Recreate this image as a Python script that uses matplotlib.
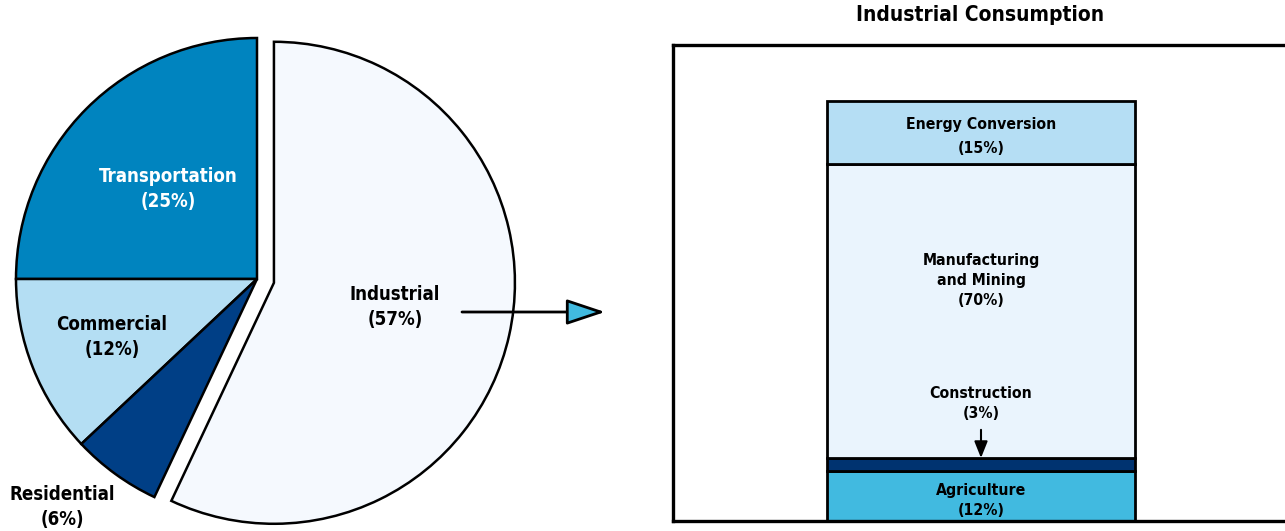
import matplotlib
matplotlib.use("Agg")
import matplotlib.pyplot as plt

# pie: total consumption by sector
sectors = ["Transportation", "Commercial", "Residential", "Industrial"]
shares = [25, 12, 6, 57]
pie_colors = ["#0084BF", "#B4DEF3", "#003F86", "#F5F9FE"]

# stacked bar: industrial consumption, bottom to top
parts = ["Agriculture", "Construction", "Manufacturing\nand Mining", "Energy Conversion"]
part_shares = [12, 3, 70, 15]
bar_colors = ["#41BAE0", "#003370", "#EAF4FD", "#B5DEF4"]

plt.rcParams["font.family"] = ["DejaVu Sans"]
plt.rcParams["font.stretch"] = "condensed"
plt.rcParams["font.weight"] = "bold"

W, H = 1285, 531
fig = plt.figure(figsize=(W / 100, H / 100), dpi=100)

# ---- pie ----
ax = fig.add_axes([0, 0, 620 / W, 1])
cx, cy, r = 257, 279, 241
ax.axis("off")
wedges, _ = ax.pie(shares, colors=pie_colors, startangle=90, counterclock=True,
                   explode=[0, 0, 0, 0.072], radius=1,
                   wedgeprops=dict(edgecolor="black", linewidth=1.8))
ax.set_xlim((0 - cx) / r, (620 - cx) / r)
ax.set_ylim((cy - H) / r, cy / r)
ax.set_aspect("auto")

def px(x, y):
    return (x - cx) / r, (cy - y) / r

fs = 13.4
ax.text(*px(168, 189), f"{sectors[0]}\n({shares[0]}%)", color="white",
        ha="center", va="center", fontsize=fs, linespacing=1.45)
ax.text(*px(112, 337), f"{sectors[1]}\n({shares[1]}%)", color="black",
        ha="center", va="center", fontsize=fs, linespacing=1.45)
ax.text(*px(62, 507), f"{sectors[2]}\n({shares[2]}%)", color="black",
        ha="center", va="center", fontsize=fs, linespacing=1.45)
ax.text(*px(395, 307), f"{sectors[3]}\n({shares[3]}%)", color="black",
        ha="center", va="center", fontsize=fs, linespacing=1.45)

ax.annotate("", xy=px(605, 312), xytext=px(462, 312),
            arrowprops=dict(arrowstyle="-|>,head_length=2.4,head_width=0.8",
                            mutation_scale=10, fc="#41BAE0", ec="black",
                            lw=2, shrinkA=0, shrinkB=0), zorder=5)

# ---- stacked bar ----
bx = fig.add_axes([673 / W, (H - 521) / H, 616 / W, (521 - 45) / H])
bx.set_xlim(-1, 1)
bx.set_ylim(0, 113.3)
bottom = 0
for name, val, col in zip(parts, part_shares, bar_colors):
    bx.bar(0, val, bottom=bottom, width=1, color=col, edgecolor="black",
           linewidth=2)
    bottom += val
bx.set_xticks([])
bx.set_yticks([])
for s in ["left", "top", "bottom"]:
    bx.spines[s].set_linewidth(2.4)
bx.spines["right"].set_visible(False)

bfs = 11.3
bx.text(0, 91.5, f"{parts[3]}\n({part_shares[3]}%)", ha="center", va="center",
        fontsize=bfs, linespacing=1.75)
bx.text(0, 57.3, f"{parts[2]}\n({part_shares[2]}%)", ha="center", va="center",
        fontsize=bfs, linespacing=1.4)
bx.text(0, 28.0, f"{parts[1]}\n({part_shares[1]}%)", ha="center", va="center",
        fontsize=bfs, linespacing=1.4)
bx.text(0, 4.9, f"{parts[0]}\n({part_shares[0]}%)", ha="center", va="center",
        fontsize=bfs, linespacing=1.4)
bx.annotate("", xy=(0, part_shares[0] + part_shares[1]), xytext=(0, 21.7),
            arrowprops=dict(arrowstyle="-|>,head_length=1.0,head_width=0.4",
                            mutation_scale=10, fc="black", ec="black",
                            lw=1.5, shrinkA=0, shrinkB=0))

fig.text(980 / W, 1 - 15 / H, "Industrial Consumption", ha="center",
         va="center", fontsize=15)

fig.savefig("out.png", dpi=100)
